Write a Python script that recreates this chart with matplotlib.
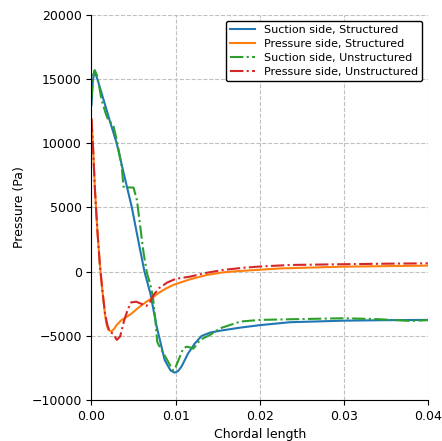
import numpy as np
import matplotlib as mpl
mpl.use('Agg')
import matplotlib.pyplot as plt

plt.rc('font', size=9)

# Suction side, structured mesh
ss_x = [0, 0.00015, 0.00034, 0.0007, 0.0015, 0.0022, 0.003, 0.004, 0.0048, 0.0056,
        0.0063, 0.007, 0.00775, 0.0087, 0.0094, 0.0099, 0.0103, 0.0107, 0.0115,
        0.0123, 0.0131, 0.0141, 0.0153, 0.0177, 0.02, 0.0236, 0.03, 0.035, 0.04]
ss_p = [13000, 14800, 15650, 15000, 13250, 11700, 10000, 7200, 5000, 2300,
        0, -1700, -4280, -6880, -7700, -7870, -7750, -7400, -6360,
        -5580, -5010, -4750, -4600, -4360, -4170, -3940, -3820, -3780, -3760]

# Pressure side, structured mesh
ps_x = [0, 0.0002, 0.0004, 0.0007, 0.001, 0.0013, 0.0016, 0.00176, 0.002, 0.00236,
        0.0027, 0.003, 0.0035, 0.004, 0.0047, 0.0055, 0.0063, 0.0072, 0.008, 0.0089,
        0.0097, 0.0117, 0.0137, 0.0157, 0.0177, 0.02, 0.0224, 0.03, 0.035, 0.04]
ps_p = [11900, 9500, 6500, 3200, 500, -1500, -3300, -4020, -4540, -4670,
        -4450, -4150, -3810, -3600, -3300, -2850, -2450, -2050, -1650, -1300,
        -1040, -600, -260, -50, 55, 150, 250, 390, 430, 470]

# Suction side, unstructured mesh
su_x = [0, 0.0002, 0.0004, 0.0007, 0.0012, 0.0017, 0.002, 0.0024, 0.0026, 0.003,
        0.0036, 0.0038, 0.004, 0.005, 0.0054, 0.0058, 0.0062, 0.0066, 0.007, 0.0073,
        0.0076, 0.0078, 0.0079, 0.0088, 0.0097, 0.0099, 0.0104, 0.0109, 0.0113,
        0.0117, 0.0121, 0.0125, 0.0129, 0.0141, 0.0153, 0.0177, 0.02, 0.0236,
        0.03, 0.034, 0.038, 0.04]
su_p = [13500, 15300, 15700, 15200, 13400, 12300, 11800, 11560, 11400, 10260,
        8180, 6620, 6570, 6550, 5580, 3500, 1430, -130, -1000, -1950,
        -3800, -5400, -5600, -6650, -7700, -7600, -6800, -6000, -5850,
        -5900, -6000, -5700, -5320, -4930, -4410, -3890, -3760, -3710,
        -3630, -3700, -3840, -3780]

# Pressure side, unstructured mesh
pu_x = [0, 0.0002, 0.0004, 0.0007, 0.001, 0.0013, 0.0016, 0.0019, 0.0022, 0.0026,
        0.003, 0.0034, 0.0039, 0.0043, 0.0047, 0.0053, 0.0059, 0.0065, 0.0069, 0.0073,
        0.008, 0.009, 0.01, 0.0117, 0.0136, 0.0156, 0.018, 0.02, 0.0236, 0.03,
        0.035, 0.04]
pu_p = [11900, 9500, 6500, 3200, 500, -1500, -3200, -4200, -4700, -4850,
        -5320, -5060, -3760, -2980, -2400, -2340, -2500, -2680, -2450, -1900,
        -1300, -850, -560, -390, -100, 130, 300, 400, 520, 580,
        620, 650]

fig = plt.figure(figsize=(4.42, 4.41), dpi=100)
ax = fig.add_axes([0.207, 0.093, 0.761, 0.873])

ax.plot(ss_x, ss_p, color='C0', lw=1.5, label='Suction side, Structured')
ax.plot(ps_x, ps_p, color='C1', lw=1.5, label='Pressure side, Structured')
ax.plot(su_x, su_p, '-.', color='C2', lw=1.5, label='Suction side, Unstructured')
ax.plot(pu_x, pu_p, '-.', color='C3', lw=1.5, label='Pressure side, Unstructured')

ax.set_xlim(0, 0.04)
ax.set_ylim(-10000, 20000)
ax.set_xticks([0, 0.01, 0.02, 0.03, 0.04])
ax.set_yticks(np.arange(-10000, 20001, 5000))
ax.grid(True, linestyle='--', color='#c0c0c0', lw=0.8)
ax.spines['top'].set_visible(False)
ax.spines['right'].set_visible(False)
ax.set_xlabel('Chordal length')
ax.set_ylabel('Pressure (Pa)')
ax.legend(loc='upper right', fontsize=8, framealpha=1, edgecolor='black',
          borderpad=0.4, labelspacing=0.35, handlelength=2.2)

plt.savefig('out.png', dpi=100)
